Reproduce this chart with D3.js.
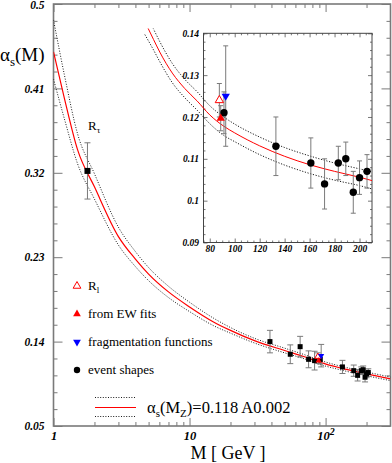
<!DOCTYPE html>
<html>
<head>
<meta charset="utf-8">
<script src="https://cdn.jsdelivr.net/npm/d3@7"></script>
<style>
  body { margin: 0; background: #fff; }
  svg { display: block; }
  text { font-family: "Liberation Serif", "Times New Roman", serif; }
</style>
</head>
<body>
<svg id="chart" width="392" height="463"></svg>
<script>
// running coupling curves (main panel, log M)
const curveM = [1, 1.2, 1.5, 2, 3, 4, 5, 7, 10, 15, 20, 30, 50, 70, 91.2, 130, 200, 300];
const alphaCentral = [0.449, 0.400, 0.345, 0.305, 0.252, 0.228, 0.212, 0.193, 0.177, 0.161, 0.152, 0.141, 0.1305, 0.1238, 0.1178, 0.1117, 0.1056, 0.1003];
const alphaUpper = [0.483, 0.425, 0.362, 0.319, 0.262, 0.236, 0.219, 0.199, 0.182, 0.165, 0.155, 0.1435, 0.1330, 0.1260, 0.1200, 0.1137, 0.1076, 0.1022];
const alphaLower = [0.420, 0.378, 0.330, 0.292, 0.243, 0.220, 0.205, 0.187, 0.172, 0.157, 0.149, 0.1385, 0.1280, 0.1216, 0.1156, 0.1097, 0.1036, 0.0984];

// same curves in the inset (linear M)
const insetM = [28, 35, 40, 50, 60, 70, 80, 91.2, 100, 120, 140, 160, 180, 200, 210];
const insetCentral = [0.1428, 0.1385, 0.1355, 0.1305, 0.1268, 0.1238, 0.1205, 0.1178, 0.1162, 0.1131, 0.1106, 0.1086, 0.1070, 0.1056, 0.1048];
const insetUpper = [0.1455, 0.1410, 0.1380, 0.1328, 0.1290, 0.1260, 0.1227, 0.1200, 0.1183, 0.1152, 0.1127, 0.1107, 0.1090, 0.1076, 0.1069];
const insetLower = [0.1397, 0.1360, 0.1332, 0.1282, 0.1246, 0.1216, 0.1184, 0.1156, 0.1141, 0.1110, 0.1085, 0.1065, 0.1049, 0.1036, 0.1028];

// measurements
const tauM = [1.777], tauAlpha = [0.322], tauErr = [0.030];
const shapeM = [39, 55, 65, 75, 83, 91.4, 133, 161, 172, 183, 189, 195, 200, 206];
const shapeAlpha = [0.140, 0.1265, 0.1346, 0.1211, 0.1197, 0.121, 0.113, 0.109, 0.104, 0.109, 0.110, 0.102, 0.1055, 0.107];
const shapeErr = [0.012, 0.010, 0.011, 0.009, 0.010, 0.005, 0.007, 0.006, 0.006, 0.004, 0.004, 0.005, 0.004, 0.004];
const rlM = [87.7], rlAlpha = [0.124], rlErr = [0.004];
const ewM = [88.8], ewAlpha = [0.1197], ewErr = [0.003];
const fragM = [92.8], fragAlpha = [0.125], fragErr = [0.012];

// ticks
const yMajor = [0.05, 0.14, 0.23, 0.32, 0.41, 0.5];
const xMajor = [1, 10, 100];
const insetYMajor = [0.09, 0.1, 0.11, 0.12, 0.13, 0.14];
const insetXMajor = [80, 100, 120, 140, 160, 180, 200];

const svg = d3.select("#chart");
const pts = (ms, as, es) => ms.map((m, i) => ({ m: m, a: as[i], e: es ? es[i] : 0 }));

// main scales
const L = 53.5, R = 390.5, T = 4, B = 426;
const x = d3.scaleLog().domain([1, 300]).range([L, R]);
const y = d3.scaleLinear().domain([0.05, 0.5]).range([B, T]);

const yMinor = d3.range(0.05, 0.5, 0.018).map(v => +v.toFixed(3)).filter(v => !yMajor.includes(v));
const xMinor = [2, 3, 4, 5, 6, 7, 8, 9, 20, 30, 40, 50, 60, 70, 80, 90, 200];

svg.append("defs").append("clipPath").attr("id", "mainClip")
  .append("rect").attr("x", L).attr("y", T).attr("width", R - L).attr("height", B - T);

const grey = "#7a7a7a";

// axes for main frame, ticks pointing in
function tickAxis(g, axis, labelled) {
  g.call(axis);
  g.select(".domain").remove();
  g.selectAll("line").attr("stroke", grey).attr("stroke-width", 1);
  if (!labelled) { g.selectAll("text").remove(); return; }
  g.selectAll("text").attr("fill", "#000").style("font-weight", "bold").style("font-style", "italic")
    .style("font-family", "'Liberation Serif', serif");
}
const yl = svg.append("g").attr("transform", `translate(${L},0)`);
tickAxis(yl, d3.axisLeft(y).tickValues(yMajor).tickSizeInner(-9).tickSizeOuter(0).tickPadding(9).tickFormat(d3.format("")), true);
yl.selectAll("text").style("font-size", "11.5px");
yl.selectAll("text").filter(d => d === 0.5).attr("dy", "0.42em");
tickAxis(svg.append("g").attr("transform", `translate(${L},0)`),
  d3.axisLeft(y).tickValues(yMinor).tickSizeInner(-4).tickSizeOuter(0));
tickAxis(svg.append("g").attr("transform", `translate(${R},0)`),
  d3.axisRight(y).tickValues(yMajor).tickSizeInner(-9).tickSizeOuter(0));
tickAxis(svg.append("g").attr("transform", `translate(${R},0)`),
  d3.axisRight(y).tickValues(yMinor).tickSizeInner(-4).tickSizeOuter(0));

const xb = svg.append("g").attr("transform", `translate(0,${B})`);
tickAxis(xb, d3.axisBottom(x).tickValues(xMajor).tickSizeInner(-8).tickSizeOuter(0).tickPadding(5)
  .tickFormat(d => d === 100 ? "10" : String(d)), true);
xb.selectAll("text").style("font-size", "12.5px");
xb.selectAll("text").filter(d => d === 100).append("tspan").attr("dy", "-0.5em").style("font-size", "10px").text("2");
tickAxis(svg.append("g").attr("transform", `translate(0,${B})`),
  d3.axisBottom(x).tickValues(xMinor).tickSizeInner(-4).tickSizeOuter(0));
tickAxis(svg.append("g").attr("transform", `translate(0,${T})`),
  d3.axisTop(x).tickValues(xMajor).tickSizeInner(-8).tickSizeOuter(0));
tickAxis(svg.append("g").attr("transform", `translate(0,${T})`),
  d3.axisTop(x).tickValues(xMinor).tickSizeInner(-4).tickSizeOuter(0));

svg.append("rect").attr("x", L).attr("y", T).attr("width", R - L).attr("height", B - T)
  .attr("fill", "none").attr("stroke", grey).attr("stroke-width", 1.6);

// main curves
const mainLine = d3.line().x(d => x(d.m)).y(d => y(d.a)).curve(d3.curveMonotoneX);
const mainCurves = svg.append("g").attr("clip-path", "url(#mainClip)");
mainCurves.append("path").datum(pts(curveM, alphaUpper)).attr("d", mainLine)
  .attr("fill", "none").attr("stroke", "#000").attr("stroke-width", 0.9).attr("stroke-dasharray", "1,1.6");
mainCurves.append("path").datum(pts(curveM, alphaLower)).attr("d", mainLine)
  .attr("fill", "none").attr("stroke", "#000").attr("stroke-width", 0.9).attr("stroke-dasharray", "1,1.6");
mainCurves.append("path").datum(pts(curveM, alphaCentral)).attr("d", mainLine)
  .attr("fill", "none").attr("stroke", "#ff0000").attr("stroke-width", 1.2);

// error bars helper
function errBars(g, data, xs, ys, cap) {
  const eb = g.append("g").attr("stroke", grey).attr("stroke-width", 1);
  data.forEach(d => {
    const cx = xs(d.m);
    eb.append("line").attr("x1", cx).attr("x2", cx).attr("y1", ys(d.a - d.e)).attr("y2", ys(d.a + d.e));
    eb.append("line").attr("x1", cx - cap).attr("x2", cx + cap).attr("y1", ys(d.a + d.e)).attr("y2", ys(d.a + d.e));
    eb.append("line").attr("x1", cx - cap).attr("x2", cx + cap).attr("y1", ys(d.a - d.e)).attr("y2", ys(d.a - d.e));
  });
}
const tri = d3.symbol().type(d3.symbolTriangle);

// main data
const tauData = pts(tauM, tauAlpha, tauErr);
const shapeData = pts(shapeM, shapeAlpha, shapeErr);
const rlData = pts(rlM, rlAlpha, rlErr);
const ewData = pts(ewM, ewAlpha, ewErr);
const fragData = pts(fragM, fragAlpha, fragErr);

const mainPts = svg.append("g");
errBars(mainPts, tauData.concat(shapeData, rlData, ewData, fragData), x, y, 3);
mainPts.selectAll(".tau").data(tauData).join("rect")
  .attr("x", d => x(d.m) - 3).attr("y", d => y(d.a) - 3).attr("width", 6).attr("height", 6).attr("fill", "#000");
mainPts.selectAll(".shape").data(shapeData).join("rect")
  .attr("x", d => x(d.m) - 2.5).attr("y", d => y(d.a) - 2.5).attr("width", 5).attr("height", 5).attr("fill", "#000");
mainPts.selectAll(".rl").data(rlData).join("path")
  .attr("d", tri.size(16)).attr("transform", d => `translate(${x(d.m)},${y(d.a)})`)
  .attr("fill", "#fff").attr("stroke", "#ff0000").attr("stroke-width", 1);
mainPts.selectAll(".ew").data(ewData).join("path")
  .attr("d", tri.size(16)).attr("transform", d => `translate(${x(d.m)},${y(d.a)})`).attr("fill", "#ff0000");
mainPts.selectAll(".frag").data(fragData).join("path")
  .attr("d", tri.size(16)).attr("transform", d => `translate(${x(d.m)},${y(d.a)}) rotate(180)`).attr("fill", "#0000ff");

// R_tau label
const rt = svg.append("text").attr("x", 88).attr("y", 130).style("font-size", "13px").text("R");
rt.append("tspan").attr("dy", "3").style("font-size", "9px").text("τ");

// inset
const iL = 203.5, iR = 372, iT = 33.3, iB = 242.5;
const ix = d3.scaleLinear().domain([75, 210]).range([iL, iR]);
const iy = d3.scaleLinear().domain([0.09, 0.14]).range([iB, iT]);
const insetYMinor = d3.range(0.09, 0.14, 0.002).map(v => +v.toFixed(3)).filter(v => !insetYMajor.includes(v));
const insetXMinor = d3.range(75, 211, 5).filter(v => !insetXMajor.includes(v));

svg.select("defs").append("clipPath").attr("id", "insetClip")
  .append("rect").attr("x", 0).attr("y", 28.5).attr("width", iR).attr("height", iB - 28.5);

function insetAxis(g, axis, labelled) {
  g.call(axis);
  g.select(".domain").remove();
  g.selectAll("line").attr("stroke", "#555").attr("stroke-width", 0.8);
  if (!labelled) { g.selectAll("text").remove(); return; }
  g.selectAll("text").attr("fill", "#000").style("font-weight", "bold").style("font-style", "italic")
    .style("font-size", "9.5px").style("font-family", "'Liberation Serif', serif");
}
insetAxis(svg.append("g").attr("transform", `translate(${iL},0)`),
  d3.axisLeft(iy).tickValues(insetYMajor).tickSizeInner(-4).tickSizeOuter(0).tickPadding(4.5).tickFormat(d3.format("")), true);
insetAxis(svg.append("g").attr("transform", `translate(${iL},0)`),
  d3.axisLeft(iy).tickValues(insetYMinor).tickSizeInner(-2).tickSizeOuter(0));
insetAxis(svg.append("g").attr("transform", `translate(${iR},0)`),
  d3.axisRight(iy).tickValues(insetYMajor).tickSizeInner(-4).tickSizeOuter(0));
insetAxis(svg.append("g").attr("transform", `translate(${iR},0)`),
  d3.axisRight(iy).tickValues(insetYMinor).tickSizeInner(-2).tickSizeOuter(0));
insetAxis(svg.append("g").attr("transform", `translate(0,${iB})`),
  d3.axisBottom(ix).tickValues(insetXMajor).tickSizeInner(-4).tickSizeOuter(0).tickPadding(2.5).tickFormat(d3.format("")), true);
insetAxis(svg.append("g").attr("transform", `translate(0,${iB})`),
  d3.axisBottom(ix).tickValues(insetXMinor).tickSizeInner(-2).tickSizeOuter(0));
insetAxis(svg.append("g").attr("transform", `translate(0,${iT})`),
  d3.axisTop(ix).tickValues(insetXMajor).tickSizeInner(-4).tickSizeOuter(0));
insetAxis(svg.append("g").attr("transform", `translate(0,${iT})`),
  d3.axisTop(ix).tickValues(insetXMinor).tickSizeInner(-2).tickSizeOuter(0));

svg.append("rect").attr("x", iL).attr("y", iT).attr("width", iR - iL).attr("height", iB - iT)
  .attr("fill", "none").attr("stroke", "#444").attr("stroke-width", 1);

const insetLine = d3.line().x(d => ix(d.m)).y(d => iy(d.a)).curve(d3.curveMonotoneX);
const insetCurves = svg.append("g").attr("clip-path", "url(#insetClip)");
insetCurves.append("path").datum(pts(insetM, insetUpper)).attr("d", insetLine)
  .attr("fill", "none").attr("stroke", "#000").attr("stroke-width", 0.9).attr("stroke-dasharray", "1.2,1.6");
insetCurves.append("path").datum(pts(insetM, insetLower)).attr("d", insetLine)
  .attr("fill", "none").attr("stroke", "#000").attr("stroke-width", 0.9).attr("stroke-dasharray", "1.2,1.6");
insetCurves.append("path").datum(pts(insetM, insetCentral)).attr("d", insetLine)
  .attr("fill", "none").attr("stroke", "#ff0000").attr("stroke-width", 1);

// inset only carries the LEP points (Z pole and above)
const inInset = d => d.m >= 90 && d.m <= 210;
const insetShapes = shapeData.filter(inInset);
const insetPts = svg.append("g");
errBars(insetPts, insetShapes.concat(rlData, ewData, fragData), ix, iy, 2.5);
insetPts.selectAll(".shape").data(insetShapes).join("circle")
  .attr("cx", d => ix(d.m)).attr("cy", d => iy(d.a)).attr("r", 3.7).attr("fill", "#000");
insetPts.selectAll(".rl").data(rlData).join("path")
  .attr("d", tri.size(30)).attr("transform", d => `translate(${ix(d.m)},${iy(d.a)})`)
  .attr("fill", "#fff").attr("stroke", "#ff0000").attr("stroke-width", 1);
insetPts.selectAll(".ew").data(ewData).join("path")
  .attr("d", tri.size(30)).attr("transform", d => `translate(${ix(d.m)},${iy(d.a)})`).attr("fill", "#ff0000");
insetPts.selectAll(".frag").data(fragData).join("path")
  .attr("d", tri.size(30)).attr("transform", d => `translate(${ix(d.m)},${iy(d.a)}) rotate(180)`).attr("fill", "#0000ff");

// legend
const lg = svg.append("g");
lg.append("path").attr("d", tri.size(26)).attr("transform", "translate(77,286)")
  .attr("fill", "#fff").attr("stroke", "#ff0000").attr("stroke-width", 1);
lg.append("path").attr("d", tri.size(26)).attr("transform", "translate(77,314)").attr("fill", "#ff0000");
lg.append("path").attr("d", tri.size(26)).attr("transform", "translate(77,342) rotate(180)").attr("fill", "#0000ff");
lg.append("circle").attr("cx", 77).attr("cy", 370).attr("r", 3.2).attr("fill", "#000");
const rl = lg.append("text").attr("x", 88).attr("y", 290).style("font-size", "13px").text("R");
rl.append("tspan").attr("dy", "3").style("font-size", "9px").text("l");
lg.append("text").attr("x", 88).attr("y", 318).style("font-size", "13px").text("from EW fits");
lg.append("text").attr("x", 88).attr("y", 346).style("font-size", "13px").text("fragmentation functions");
lg.append("text").attr("x", 88).attr("y", 374).style("font-size", "13px").text("event shapes");
lg.append("line").attr("x1", 95).attr("x2", 136).attr("y1", 397.5).attr("y2", 397.5)
  .attr("stroke", "#000").attr("stroke-width", 0.9).attr("stroke-dasharray", "1,1.6");
lg.append("line").attr("x1", 95).attr("x2", 136).attr("y1", 407.5).attr("y2", 407.5)
  .attr("stroke", "#ff0000").attr("stroke-width", 1.2);
lg.append("line").attr("x1", 95).attr("x2", 136).attr("y1", 416.5).attr("y2", 416.5)
  .attr("stroke", "#000").attr("stroke-width", 0.9).attr("stroke-dasharray", "1,1.6");
const fit = lg.append("text").attr("x", 147).attr("y", 413).style("font-size", "16.5px").text("α");
fit.append("tspan").attr("dy", "4").style("font-size", "11px").text("s");
fit.append("tspan").attr("dy", "-4").text("(M");
fit.append("tspan").attr("dy", "4").style("font-size", "11px").text("Z");
fit.append("tspan").attr("dy", "-4").text(")=0.118 A0.002");

// axis titles
const yt = svg.append("text").attr("x", 0).attr("y", 61).style("font-size", "19px").text("α");
yt.append("tspan").attr("dy", "5").style("font-size", "13px").text("s");
yt.append("tspan").attr("dy", "-5").text("(M)");
svg.append("text").attr("x", 228).attr("y", 459).attr("text-anchor", "middle").style("font-size", "18px").text("M [ GeV ]");
</script>
</body>
</html>
